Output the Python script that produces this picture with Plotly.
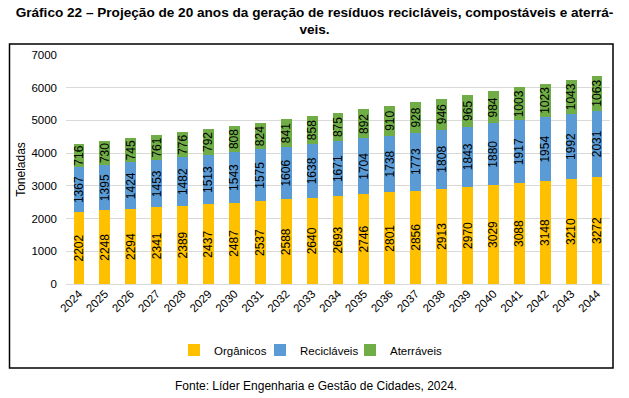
import plotly.graph_objects as go

years = [str(y) for y in range(2024, 2045)]
organicos = [2202, 2248, 2294, 2341, 2389, 2437, 2487, 2537, 2588, 2640, 2693,
             2746, 2801, 2856, 2913, 2970, 3029, 3088, 3148, 3210, 3272]
reciclaveis = [1367, 1395, 1424, 1453, 1482, 1513, 1543, 1575, 1606, 1638, 1671,
               1704, 1738, 1773, 1808, 1843, 1880, 1917, 1954, 1992, 2031]
aterraveis = [716, 730, 745, 761, 776, 792, 808, 824, 841, 858, 875,
              892, 910, 928, 946, 965, 984, 1003, 1023, 1043, 1063]
y_ticks = [0, 1000, 2000, 3000, 4000, 5000, 6000, 7000]
series_names = ["Orgânicos", "Recicláveis", "Aterráveis"]
series_colors = ["#FFC000", "#5B9BD5", "#70AD47"]

FONT = "Liberation Sans, Arial, sans-serif"
TITLE_FONT = "Liberation Sans Narrow, Arial Narrow, Liberation Sans, Arial, sans-serif"

L, R, T, B = 66, 19, 55, 114
W, H = 629, 398
pw, ph = W - L - R, H - T - B

def px_x(x):
    return (x - L) / pw

def px_y(y):
    return (H - B - y) / ph

legend_ids = ["legend", "legend2", "legend3"]
legend_x0 = [174, 260, 350]

fig = go.Figure()
for name, vals, color, lid in zip(series_names, [organicos, reciclaveis, aterraveis],
                                  series_colors, legend_ids):
    fig.add_trace(go.Bar(
        x=years, y=vals, name=name, marker=dict(color=color, line=dict(width=0)),
        text=[str(v) for v in vals], textposition="inside", insidetextanchor="middle",
        textangle=-90, textfont=dict(family=FONT, size=12, color="#000000"),
        width=0.42, cliponaxis=False, legend=lid,
    ))

legend_common = dict(orientation="h", xanchor="left", yanchor="middle", y=px_y(350),
                     font=dict(size=11.5, color="#000000"), bgcolor="rgba(0,0,0,0)")

fig.update_layout(
    width=W, height=H, barmode="stack",
    margin=dict(l=L, r=R, t=T, b=B, autoexpand=False),
    paper_bgcolor="white", plot_bgcolor="white",
    font=dict(family=FONT, size=11.5, color="#000000"),
    uniformtext=dict(minsize=12, mode="show"),
    title=dict(
        text="Gráfico 22 – Projeção de 20 anos da geração de resíduos recicláveis, compostáveis e aterrá-<br>veis.",
        font=dict(family=TITLE_FONT, size=13.6, color="#000000", weight="bold"),
        x=0.5, xanchor="center", xref="container",
        y=1 - 16.5 / H, yanchor="middle", yref="container",
    ),
    xaxis=dict(
        tickangle=-45, tickfont=dict(size=11.5, color="#000000"),
        showgrid=False, showline=False, ticks="",
    ),
    yaxis=dict(
        range=[0, 7000], tickvals=y_ticks, tickfont=dict(size=11.5, color="#000000"),
        showgrid=True, gridcolor="#D9D9D9", gridwidth=1, zeroline=True,
        zerolinecolor="#D9D9D9", zerolinewidth=1, showline=False, ticks="",
        ticklabelstandoff=8,
        title=dict(text="Toneladas", font=dict(size=12, color="#000000"), standoff=3),
    ),
    legend=dict(x=px_x(legend_x0[0]), **legend_common),
    legend2=dict(x=px_x(legend_x0[1]), **legend_common),
    legend3=dict(x=px_x(legend_x0[2]), **legend_common),
    showlegend=True,
)

fig.add_shape(type="rect", xref="paper", yref="paper",
              x0=px_x(9.5), x1=px_x(613), y0=px_y(368), y1=px_y(44),
              line=dict(color="#000000", width=1.5), fillcolor="rgba(0,0,0,0)", layer="below")

fig.add_annotation(text="Fonte: Líder Engenharia e Gestão de Cidades, 2024.",
                   xref="paper", yref="paper", x=px_x(316), y=px_y(386),
                   xanchor="center", yanchor="middle", showarrow=False,
                   font=dict(family=FONT, size=12, color="#000000"))

fig.write_html("out.html", config={"displayModeBar": False},
               post_script="document.body.style.margin='0px';")
